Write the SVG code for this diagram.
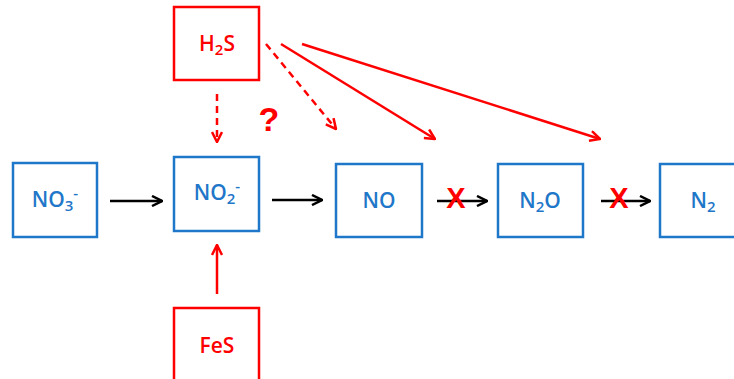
<svg xmlns="http://www.w3.org/2000/svg" width="734" height="379" viewBox="0 0 734 379">
<defs>
<style>
.bn{fill:#fff;stroke:#1f77c9;stroke-width:2.5}
.rn{fill:#fff;stroke:#ff0000;stroke-width:2.5}
.bt{font-family:"Open Sans","Liberation Sans",sans-serif;font-size:21px;font-weight:600;fill:#1f77c9;text-anchor:middle}
.rt{font-family:"Open Sans","Liberation Sans",sans-serif;font-size:21px;font-weight:600;fill:#ff0000;text-anchor:middle}
.s{font-size:15px}
.k{stroke:#000;stroke-width:2.5;fill:none;marker-end:url(#ak)}
.r{stroke:#ff0000;stroke-width:2.5;fill:none;marker-end:url(#ar)}
.d{stroke-dasharray:7 5}
.x{font-family:"Liberation Sans",sans-serif;font-size:29px;font-weight:bold;fill:#ff0000;text-anchor:middle}
</style>
<marker id="ak" viewBox="0 0 12 12" refX="11" refY="6" markerWidth="12" markerHeight="12" markerUnits="userSpaceOnUse" orient="auto">
<polyline points="1,1 11,6 1,11" fill="none" stroke="#000" stroke-width="2.5"/>
</marker>
<marker id="ar" viewBox="0 0 12 12" refX="11" refY="6" markerWidth="12" markerHeight="12" markerUnits="userSpaceOnUse" orient="auto">
<polyline points="1,1 11,6 1,11" fill="none" stroke="#ff0000" stroke-width="2.5"/>
</marker>
</defs>
<rect width="734" height="379" fill="#fff"/>
<g id="connectors">
<line class="k" x1="110" y1="201" x2="162" y2="201"/>
<line class="k" x1="272" y1="200" x2="322" y2="200"/>
<line class="k" x1="437" y1="201" x2="487" y2="201"/>
<line class="k" x1="601" y1="201" x2="650" y2="201"/>
<line class="r d" x1="217" y1="94" x2="217" y2="142"/>
<line class="r d" x1="266" y1="44" x2="336" y2="129"/>
<line class="r" x1="281" y1="44" x2="435" y2="139"/>
<line class="r" x1="302" y1="44" x2="600" y2="139"/>
<line class="r" x1="217" y1="294" x2="217" y2="245"/>
<text class="x" x="456" y="208">X</text>
<text class="x" x="619" y="208">X</text>
<text x="269" y="131" font-family="Liberation Sans,sans-serif" font-size="34" font-weight="bold" fill="#ff0000" text-anchor="middle">?</text>
</g>
<g id="no3">
<rect class="bn" x="13" y="163" width="84" height="74"/>
<text class="bt" x="55" y="207">NO<tspan class="s" dy="4">3</tspan><tspan class="s" dy="-13">-</tspan></text>
</g>
<g id="no2">
<rect class="bn" x="174" y="157" width="85" height="74"/>
<text class="bt" x="217" y="200">NO<tspan class="s" dy="4">2</tspan><tspan class="s" dy="-13">-</tspan></text>
</g>
<g id="no">
<rect class="bn" x="336" y="164" width="86" height="73"/>
<text class="bt" x="379" y="208">NO</text>
</g>
<g id="n2o">
<rect class="bn" x="498" y="164" width="85" height="73"/>
<text class="bt" x="540" y="208">N<tspan class="s" dy="4">2</tspan><tspan dy="-4">O</tspan></text>
</g>
<g id="n2">
<rect class="bn" x="660" y="164" width="85" height="73"/>
<text class="bt" x="703" y="208">N<tspan class="s" dy="4">2</tspan></text>
</g>
<g id="h2s">
<rect class="rn" x="174" y="7" width="85" height="73"/>
<text class="rt" x="217" y="51">H<tspan class="s" dy="4">2</tspan><tspan dy="-4">S</tspan></text>
</g>
<g id="fes">
<rect class="rn" x="174" y="308" width="85" height="80"/>
<text class="rt" x="217" y="353">FeS</text>
</g>
</svg>
